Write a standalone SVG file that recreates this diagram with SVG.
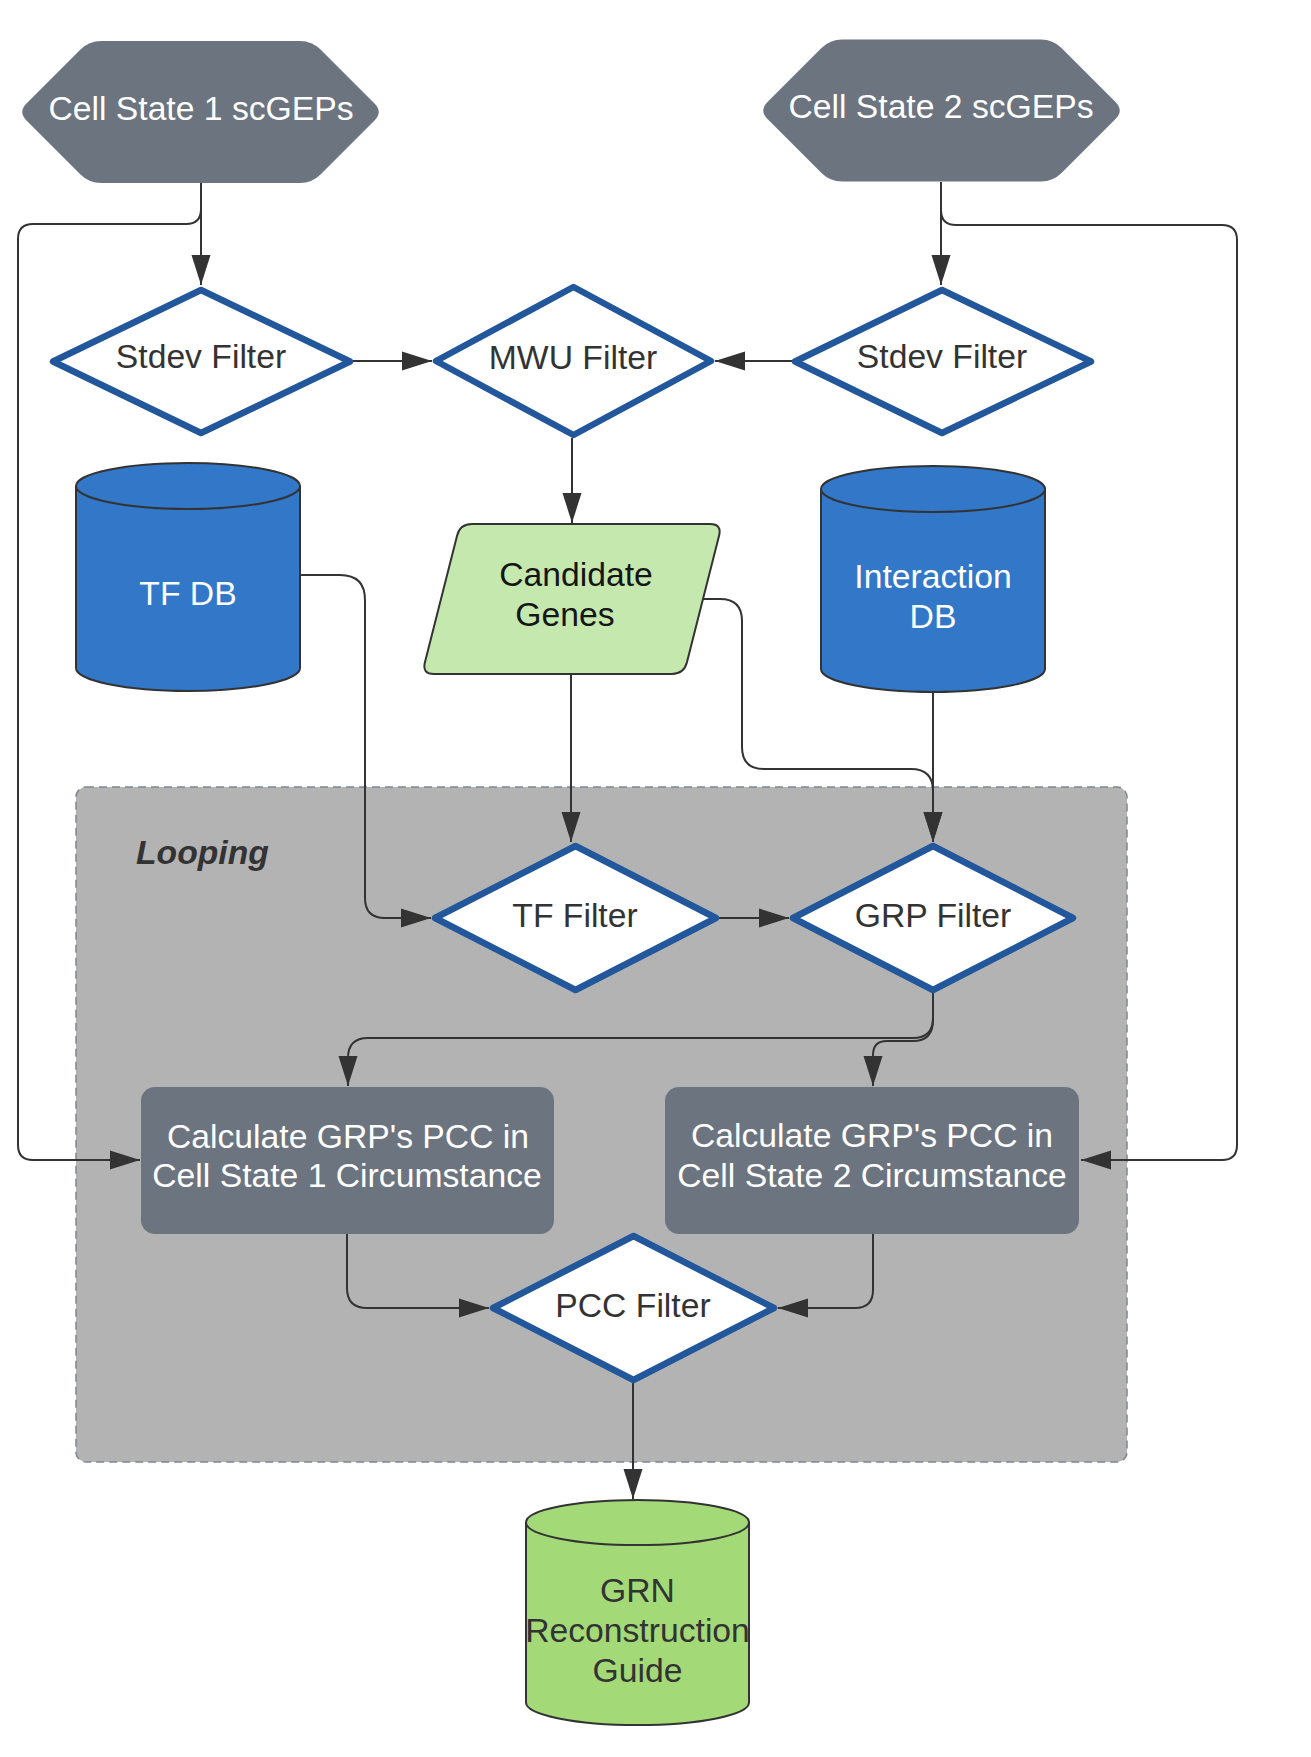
<svg xmlns="http://www.w3.org/2000/svg" width="1311" height="1757" viewBox="0 0 1311 1757">
<defs>
<style>
.t{font-family:"Liberation Sans",Arial,sans-serif;font-size:33.7px;text-anchor:middle}
.w{fill:#ffffff}
.d{fill:#333333}
.k{fill:#151515}
.dia{fill:#ffffff;stroke:#22579b;stroke-width:6.5;stroke-linejoin:round}
.hex{fill:#6c7480}
.box{fill:#6c7480}
.cylB{fill:#3277c8;stroke:#333333;stroke-width:2}
.cylG{fill:#a3d977;stroke:#333333;stroke-width:2}
.con{fill:none;stroke:#333333;stroke-width:2}
</style>
<marker id="ah" markerUnits="userSpaceOnUse" markerWidth="30" markerHeight="20" refX="30" refY="10" orient="auto">
<path d="M0,0.5 L30,10 L0,19.5 Z" fill="#333333"/>
</marker>
</defs>
<rect x="0" y="0" width="1311" height="1757" fill="#ffffff"/>

<g id="looping">
<rect x="76" y="787" width="1051" height="675" rx="10" fill="#b3b3b3" stroke="#7f8693" stroke-width="1.5" stroke-dasharray="8,5"/>
<text x="136" y="864" class="t d" style="text-anchor:start;font-weight:bold;font-style:italic">Looping</text>
</g>

<g id="connectors">
<path class="con" d="M201,183 V285" marker-end="url(#ah)"/>
<path class="con" d="M201,183 V209 Q201,224 186,224 H33 Q18,224 18,239 V1145 Q18,1160 33,1160 H140" marker-end="url(#ah)"/>
<path class="con" d="M941,182 V285" marker-end="url(#ah)"/>
<path class="con" d="M941,182 V210 Q941,225 956,225 H1222 Q1237,225 1237,240 V1145 Q1237,1160 1222,1160 H1081" marker-end="url(#ah)"/>
<path class="con" d="M352,361 H432" marker-end="url(#ah)"/>
<path class="con" d="M793,361 H715" marker-end="url(#ah)"/>
<path class="con" d="M572,438 V523" marker-end="url(#ah)"/>
<path class="con" d="M301,575 H340 Q365,575 365,600 V898 Q365,918 385,918 H431" marker-end="url(#ah)"/>
<path class="con" d="M571,674 V842" marker-end="url(#ah)"/>
<path class="con" d="M703,599 H720 Q742,599 742,621 V747 Q742,769 764,769 H911 Q933,769 933,791 V842" marker-end="url(#ah)"/>
<path class="con" d="M933,692 V842" marker-end="url(#ah)"/>
<path class="con" d="M719,918 H789" marker-end="url(#ah)"/>
<path class="con" d="M933,993 V1018 Q933,1038 913,1038 H368 Q348,1038 348,1058 V1086" marker-end="url(#ah)"/>
<path class="con" d="M933,993 V1020 Q933,1041 913,1041 H887 Q873,1041 873,1055 V1086" marker-end="url(#ah)"/>
<path class="con" d="M347,1234 V1288 Q347,1308 367,1308 H489" marker-end="url(#ah)"/>
<path class="con" d="M873,1234 V1290 Q873,1308 855,1308 H778" marker-end="url(#ah)"/>
<path class="con" d="M633,1383 V1499" marker-end="url(#ah)"/>
</g>

<g id="cell-state-1">
<path class="hex" d="M26.5,103.5 L80.5,49.5 Q89,41 101,41 L300,41 Q312,41 320.5,49.5 L374.5,103.5 Q383,112 374.5,120.5 L320.5,174.5 Q312,183 300,183 L101,183 Q89,183 80.5,174.5 L26.5,120.5 Q18,112 26.5,103.5 Z"/>
<text x="201" y="120" class="t w">Cell State 1 scGEPs</text>
</g>

<g id="cell-state-2">
<path class="hex" transform="translate(741,-1.5)" d="M26.5,103.5 L80.5,49.5 Q89,41 101,41 L300,41 Q312,41 320.5,49.5 L374.5,103.5 Q383,112 374.5,120.5 L320.5,174.5 Q312,183 300,183 L101,183 Q89,183 80.5,174.5 L26.5,120.5 Q18,112 26.5,103.5 Z"/>
<text x="941" y="118" class="t w">Cell State 2 scGEPs</text>
</g>

<g id="stdev-filter-1">
<polygon class="dia" points="201,290 350,361.5 201,433 53,361.5"/>
<text x="201" y="368" class="t d">Stdev Filter</text>
</g>

<g id="mwu-filter">
<polygon class="dia" points="573.5,287 711,361 573.5,435 436,361"/>
<text x="573" y="369" class="t d">MWU Filter</text>
</g>

<g id="stdev-filter-2">
<polygon class="dia" points="942,290 1091,361.5 942,433 795,361.5"/>
<text x="942" y="368" class="t d">Stdev Filter</text>
</g>

<g id="tf-db">
<path class="cylB" d="M76,486 A112,23 0 0 1 300,486 V668 A112,23 0 0 1 76,668 Z"/>
<path class="con" d="M76,486 A112,23 0 0 0 300,486"/>
<text x="188" y="605" class="t w">TF DB</text>
</g>

<g id="candidate-genes">
<path fill="#c5e8ae" stroke="#333333" stroke-width="2" d="M472,524 H710 Q722,524 719.05,535.63 L686.95,662.37 Q684,674 672,674 H434 Q422,674 424.95,662.37 L457.05,535.63 Q460,524 472,524 Z"/>
<text x="576" y="586" class="t k">Candidate</text>
<text x="565" y="626" class="t k">Genes</text>
</g>

<g id="interaction-db">
<path class="cylB" d="M821,489 A112,23 0 0 1 1045,489 V669 A112,23 0 0 1 821,669 Z"/>
<path class="con" d="M821,489 A112,23 0 0 0 1045,489"/>
<text x="933" y="588" class="t w">Interaction</text>
<text x="933" y="628" class="t w">DB</text>
</g>

<g id="tf-filter">
<polygon class="dia" points="575.5,846 716,918 575.5,990 435,918"/>
<text x="575" y="927" class="t d">TF Filter</text>
</g>

<g id="grp-filter">
<polygon class="dia" points="933,846 1073,918 933,990 793,918"/>
<text x="933" y="927" class="t d">GRP Filter</text>
</g>

<g id="calc-pcc-1">
<rect class="box" x="141" y="1087" width="413" height="147" rx="14"/>
<text x="348" y="1148" class="t w">Calculate GRP's PCC in</text>
<text x="347" y="1187" class="t w">Cell State 1 Circumstance</text>
</g>

<g id="calc-pcc-2">
<rect class="box" x="665" y="1087" width="414" height="147" rx="14"/>
<text x="872" y="1147" class="t w">Calculate GRP's PCC in</text>
<text x="872" y="1187" class="t w">Cell State 2 Circumstance</text>
</g>

<g id="pcc-filter">
<polygon class="dia" points="633.5,1236 774,1308 633.5,1380 493,1308"/>
<text x="633" y="1317" class="t d">PCC Filter</text>
</g>

<g id="grn-guide">
<path class="cylG" d="M526,1522.5 A111.5,22.5 0 0 1 749,1522.5 V1702.5 A111.5,22.5 0 0 1 526,1702.5 Z"/>
<path class="con" d="M526,1522.5 A111.5,22.5 0 0 0 749,1522.5"/>
<text x="637.5" y="1602" class="t d">GRN</text>
<text x="637.5" y="1642" class="t d">Reconstruction</text>
<text x="637.5" y="1682" class="t d">Guide</text>
</g>
</svg>
